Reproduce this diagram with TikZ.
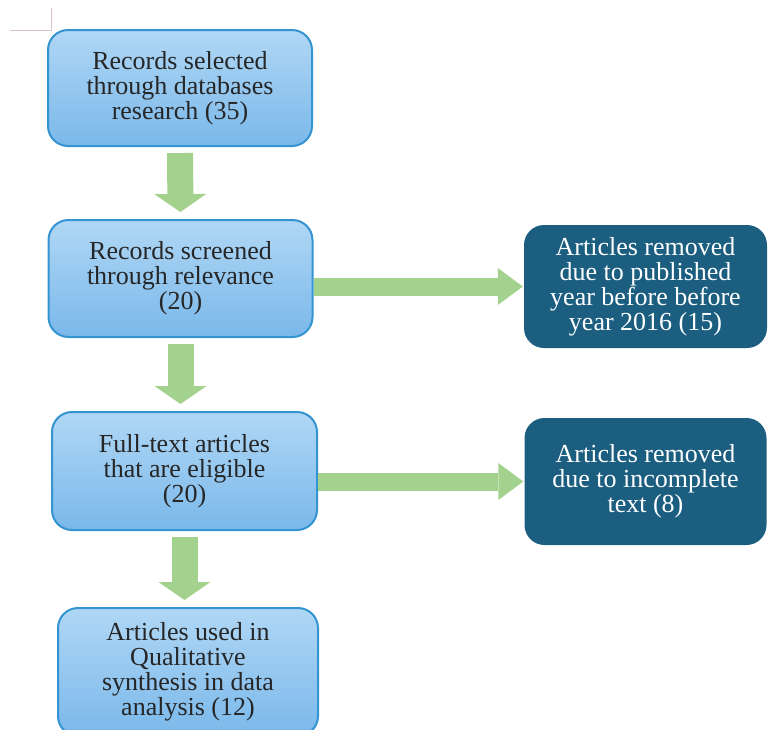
\documentclass[tikz,border=0pt]{standalone}
\usepackage{fontspec}
\setmainfont{Liberation Serif}
\usetikzlibrary{arrows.meta}
\definecolor{boxtop}{HTML}{B0D7F5}
\definecolor{boxbot}{HTML}{7AB8EA}
\definecolor{boxline}{HTML}{3494D2}
\definecolor{darkcol}{HTML}{1B5E80}
\definecolor{arrowcol}{HTML}{A3D18E}
\definecolor{markcol}{HTML}{D6C6C6}
\tikzstyle{blue box}=[rectangle,rounded corners=20pt,draw=boxline,line width=2pt,
  top color=boxtop,bottom color=boxbot,text=black!85,align=center,
  font=\fontsize{26}{25}\selectfont]
\tikzstyle{dark box}=[rectangle,rounded corners=20pt,fill=darkcol,text=white,align=center,
  font=\fontsize{26}{25}\selectfont]
\tikzstyle{down arrow}=[draw=arrowcol,line width=26pt,
  -{Triangle[length=18pt,width=52pt,line width=0pt,fill=arrowcol]},shorten <=6pt,shorten >=7pt]
\tikzstyle{side arrow}=[draw=arrowcol,line width=18pt,
  -{Triangle[length=25pt,width=37pt,line width=0pt,fill=arrowcol]},shorten >=1pt]

\begin{document}
\begin{tikzpicture}[x=1pt,y=-1pt]
    \useasboundingbox (0,0) rectangle (768,729);
    \clip (0,0) rectangle (768,729);

    % page corner mark
    \draw[markcol,line width=0.8pt] (10,30) -- (51,30) -- (51,8);

    \node[blue box,minimum width=264pt,minimum height=116pt] (records) at (180,88)
        {Records selected\\through databases\\research (35)};
    \node[blue box,minimum width=264pt,minimum height=117pt] (screened) at (180.5,278.5)
        {Records screened\\through relevance\\(20)};
    \node[blue box,minimum width=265pt,minimum height=118pt] (eligible) at (184.5,471)
        {Full-text articles\\that are eligible\\(20)};
    \node[blue box,minimum width=260pt,minimum height=128pt] (used) at (188,672)
        {Articles used in\\Qualitative\\synthesis in data\\analysis (12)};
    \node[dark box,minimum width=243pt,minimum height=123pt] (removedyear) at (645.5,286.5)
        {Articles removed\\due to published\\year before before\\year 2016 (15)};
    \node[dark box,minimum width=242pt,minimum height=127pt] (removedtext) at (645.5,481.5)
        {Articles removed\\due to incomplete\\text (8)};

    \draw[down arrow] (records) -- (screened);
    \draw[down arrow] (screened.south) -- (screened.south |- eligible.north);
    \draw[down arrow] (eligible.south) -- (eligible.south |- used.north);
    \draw[side arrow] (screened.east |- removedyear.west) -- (removedyear.west);
    \draw[side arrow] (eligible.east |- removedtext.west) -- (removedtext.west);
\end{tikzpicture}
\end{document}
